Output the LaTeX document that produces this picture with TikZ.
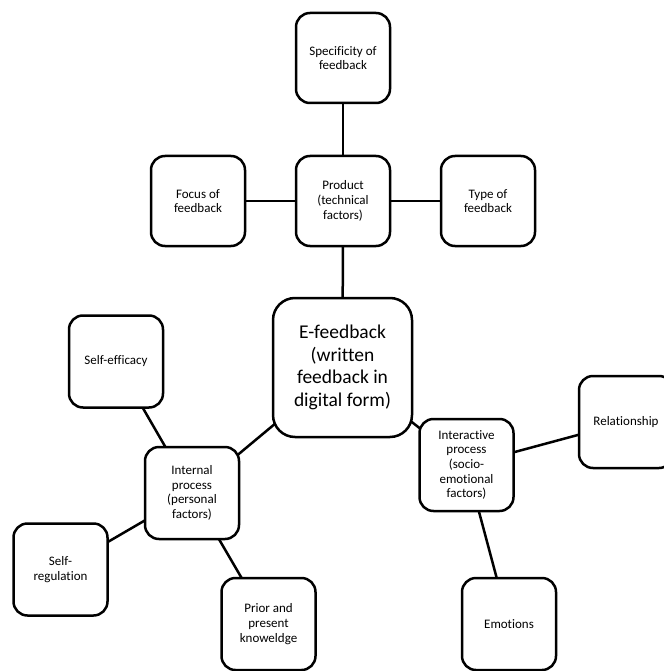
\documentclass[tikz,border=0pt]{standalone}
\usepackage{fontspec}
\setmainfont{Carlito}[Ligatures=NoCommon]
\usetikzlibrary{backgrounds}
\begin{document}
\begin{tikzpicture}[x=1pt,y=-1pt,
  box/.style={draw, line width=2.5pt, rounded corners=14pt, fill=white,
    minimum width=94pt, minimum height=92pt, inner sep=0pt, align=center,
    font=\fontsize{13}{14.7}\selectfont},
  hub/.style={box, minimum width=139pt, minimum height=139pt,
    rounded corners=22pt, font=\fontsize{19.5}{22.5}\selectfont},
  link/.style={line width=2.5pt}]
\useasboundingbox (0,0) rectangle (663,671);

% central concept
\node[hub] (efb) at (342.5,367.5) {E-feedback\\(written\\feedback in\\digital form)};

% product branch
\node[box, minimum height=90pt] (prod) at (343,201) {Product\\(technical\\factors)};
\node[box, minimum height=90pt] (spec) at (343,58) {Specificity of\\feedback};
\node[box, minimum height=90pt] (focus) at (198,201) {Focus of\\feedback};
\node[box, minimum height=90pt] (type) at (488,201) {Type of\\feedback};

% internal branch
\node[box] (intp) at (192,493) {Internal\\process\\(personal\\factors)};
\node[box] (seff) at (116,361.5) {Self-efficacy};
\node[box] (sreg) at (60.5,569.5) {Self-\\regulation};
\node[box] (prior) at (268.5,624) {Prior and\\present\\knoweldge};

% interactive branch
\node[box] (inter) at (466.5,465) {Interactive\\process\\(socio-\\emotional\\factors)};
\node[box] (rel) at (626,422) {Relationship};
\node[box] (emo) at (509,624) {Emotions};

\begin{scope}[on background layer]
  \fill[white] (0,0) rectangle (663,671);
  \draw[link] (spec.center) -- (prod.center);
  \draw[link] (focus.center) -- (prod.center);
  \draw[link] (prod.center) -- (type.center);
  \draw[link] (prod.center) -- (efb.center);
  \draw[link] (efb.center) -- (intp.center);
  \draw[link] (intp.center) -- (seff.center);
  \draw[link] (intp.center) -- (sreg.center);
  \draw[link] (intp.center) -- (prior.center);
  \draw[link] (efb.center) -- (inter.center);
  \draw[link] (inter.center) -- (rel.center);
  \draw[link] (inter.center) -- (emo.center);
\end{scope}
\end{tikzpicture}
\end{document}
